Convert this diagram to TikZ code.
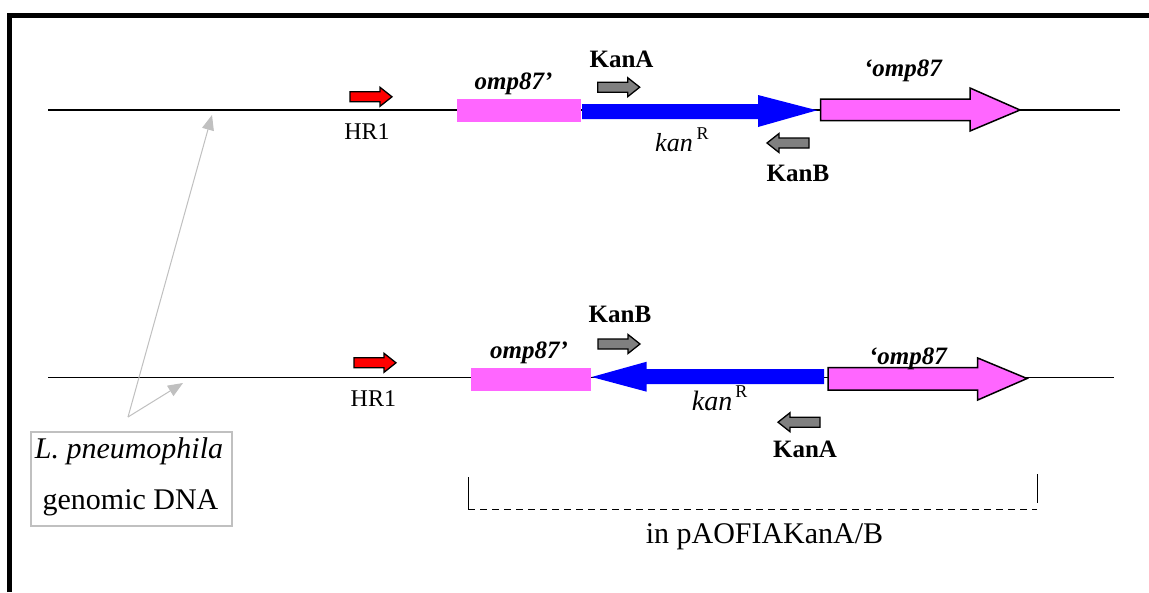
\documentclass[tikz,border=0pt]{standalone}
\usepackage{fontspec}
\setmainfont{Liberation Serif}
\usetikzlibrary{arrows.meta}
\definecolor{pinkg}{HTML}{FF66FF}
\definecolor{blueg}{HTML}{0000FF}
\definecolor{primg}{HTML}{808080}
\definecolor{lgray}{HTML}{C0C0C0}
\newcommand{\fs}[1]{\fontsize{#1}{#1}\selectfont}
\begin{document}
\begin{tikzpicture}[x=1pt,y=-1pt,
  dna/.style={line width=1.4pt, draw=black},
  gene/.style={fill=pinkg, draw=black, line width=1.5pt, line join=miter},
  primer/.style={draw=black, line width=1.3pt},
  lbl/.style={inner sep=0pt, anchor=base, font=\fs{24}},
  blbl/.style={inner sep=0pt, anchor=base, font=\fs{25}\bfseries},
  glbl/.style={inner sep=0pt, anchor=base, font=\fs{25}\bfseries\itshape},
  conn/.style={draw=lgray, line width=1pt, -{Triangle[length=15pt,width=12pt]}},
  brk/.style={line width=1.3pt, draw=black},
  rarrow/.pic={\path[pic actions] (0,-5) -- (30,-5) -- (30,-9.5) -- (42,0) -- (30,9.5) -- (30,5) -- (0,5) -- cycle;},
]
\useasboundingbox (0,0) rectangle (1149,592);
\fill[white] (0,0) rectangle (1149,592);
% frame
\draw[line width=5.3pt] (9.8,592) -- (9.8,15.5) -- (1149,15.5);

% ---------- row 1 ----------
\coordinate (L1a) at (48,110);
\coordinate (L1b) at (1120,110);
\draw[dna] (L1a) -- (L1b);
\pic[primer, fill=red] at (350,96.8) {rarrow};
\node[lbl] (hr1a) at (367,139) {HR1};
\fill[pinkg] (457,99) rectangle (581,122);
\fill[blueg] (582,104) -- (758,104) -- (758,95) -- (817,110.3) -- (758,127) -- (758,119) -- (582,119) -- cycle;
\draw[gene] (820.7,99) -- (970,99) -- (970,88) -- (1020,110) -- (970,131) -- (970,120.5) -- (820.7,120.5) -- cycle;
\node[glbl] (o1a) at (513.5,89.5) {omp87’};
\node[glbl] (o1b) at (903,76) {‘omp87};
\node[blbl] (kA1) at (621.5,67.3) {KanA};
\pic[primer, fill=primg] at (597.7,87.2) {rarrow};
\node[anchor=base west, inner sep=0pt, font=\fs{26}] (k1) at (655,151.7) {\textit{kan}\kern4pt\raisebox{12.7pt}{\fs{18}R}};
\pic[primer, fill=primg, xscale=-1] at (809,143) {rarrow};
\node[blbl] (kB1) at (798,181.7) {KanB};

% ---------- row 2 ----------
\coordinate (L2a) at (48,377.5);
\coordinate (L2b) at (1114,377.5);
\draw[dna] (L2a) -- (L2b);
\pic[primer, fill=red] at (354,362.8) {rarrow};
\node[lbl] (hr1b) at (373.4,406.7) {HR1};
\fill[pinkg] (471,368) rectangle (591,391);
\fill[blueg] (824,369) -- (646.7,369) -- (646.7,361.7) -- (591.7,377) -- (646.7,391.7) -- (646.7,384) -- (824,384) -- cycle;
\draw[gene] (828,367.7) -- (977.7,367.7) -- (977.7,358) -- (1027,378.5) -- (977.7,400) -- (977.7,390) -- (828,390) -- cycle;
\node[glbl] (o2a) at (529,358) {omp87’};
\node[glbl] (o2b) at (908,364) {‘omp87};
\node[blbl] (kB2) at (620,322) {KanB};
\pic[primer, fill=primg] at (598,344) {rarrow};
\node[anchor=base west, inner sep=0pt, font=\fs{28}] (k2) at (691.7,410.7) {\textit{kan}\kern3pt\raisebox{13.4pt}{\fs{18}R}};
\pic[primer, fill=primg, xscale=-1] at (820,422.2) {rarrow};
\node[blbl] (kA2) at (805,457.7) {KanA};

% ---------- genomic DNA box ----------
\node[draw=lgray, line width=1.5pt, minimum width=201pt, minimum height=94pt, inner sep=0pt] (box) at (131.4,478.9) {};
\node[inner sep=0pt, anchor=base, font=\fs{30}\itshape] (bt1) at (129,458.3) {L. pneumophila};
\node[inner sep=0pt, anchor=base, font=\fs{30}] (bt2) at (130.5,509.5) {genomic DNA};
\coordinate (src) at (128,417);
\coordinate (t1) at (212,115);
\coordinate (t2) at (183,383);
\draw[conn] (src) -- (t1);
\draw[conn] (src) -- (t2);

% ---------- bracket ----------
\coordinate (bl) at (468.3,477);
\coordinate (blc) at (468.3,509.3);
\coordinate (brc) at (1037.3,509.3);
\coordinate (br) at (1037.3,474);
\coordinate (brb) at (1037.3,503.3);
\draw[brk] (bl) -- (blc);
\draw[brk, dash pattern=on 7pt off 5pt] (blc) -- (brc);
\draw[brk] (br) -- (brb);
\node[inner sep=0pt, anchor=base, font=\fs{30}] (plas) at (764.5,543) {in pAOFIAKanA/B};
\end{tikzpicture}
\end{document}
